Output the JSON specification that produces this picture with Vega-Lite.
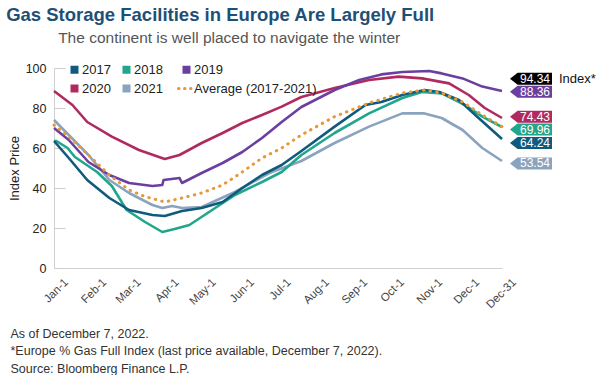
{
  "$schema": "https://vega.github.io/schema/vega-lite/v6.json",
  "padding": {"left": 6, "top": 6, "right": 0, "bottom": 0},
  "background": "white",
  "config": {"font": "Liberation Sans", "view": {"stroke": null}, "concat": {"spacing": 0}},
  "title": {"text": "Gas Storage Facilities in Europe Are Largely Full", "anchor": "start", "fontSize": 18.5, "fontWeight": "bold", "color": "#1e4f77", "offset": 6, "dx": -2},
  "datasets": {
    "lines": [
      {"series": "2021", "date": "2021-01-01", "value": 74},
      {"series": "2021", "date": "2021-01-13", "value": 66.5},
      {"series": "2021", "date": "2021-01-29", "value": 56.5},
      {"series": "2021", "date": "2021-02-15", "value": 44},
      {"series": "2021", "date": "2021-03-03", "value": 37.5},
      {"series": "2021", "date": "2021-03-22", "value": 31.5},
      {"series": "2021", "date": "2021-03-30", "value": 30},
      {"series": "2021", "date": "2021-04-07", "value": 31},
      {"series": "2021", "date": "2021-04-15", "value": 30},
      {"series": "2021", "date": "2021-05-01", "value": 30.5},
      {"series": "2021", "date": "2021-05-28", "value": 38},
      {"series": "2021", "date": "2021-06-25", "value": 47.5},
      {"series": "2021", "date": "2021-07-21", "value": 53.5},
      {"series": "2021", "date": "2021-08-17", "value": 62.5},
      {"series": "2021", "date": "2021-09-14", "value": 70.7},
      {"series": "2021", "date": "2021-10-11", "value": 77.3},
      {"series": "2021", "date": "2021-10-29", "value": 77.3},
      {"series": "2021", "date": "2021-11-12", "value": 75},
      {"series": "2021", "date": "2021-11-29", "value": 69},
      {"series": "2021", "date": "2021-12-15", "value": 60},
      {"series": "2021", "date": "2021-12-31", "value": 53.5},
      {"series": "2020", "date": "2021-01-01", "value": 88.5},
      {"series": "2020", "date": "2021-01-16", "value": 81.5},
      {"series": "2020", "date": "2021-01-28", "value": 73},
      {"series": "2020", "date": "2021-02-17", "value": 65.7},
      {"series": "2020", "date": "2021-03-11", "value": 59},
      {"series": "2020", "date": "2021-04-01", "value": 54.5},
      {"series": "2020", "date": "2021-04-13", "value": 56.5},
      {"series": "2020", "date": "2021-05-01", "value": 62.5},
      {"series": "2020", "date": "2021-05-18", "value": 67.5},
      {"series": "2020", "date": "2021-06-03", "value": 72.5},
      {"series": "2020", "date": "2021-06-19", "value": 76.5},
      {"series": "2020", "date": "2021-07-05", "value": 80.7},
      {"series": "2020", "date": "2021-07-21", "value": 85.5},
      {"series": "2020", "date": "2021-08-17", "value": 90},
      {"series": "2020", "date": "2021-09-14", "value": 94},
      {"series": "2020", "date": "2021-10-08", "value": 95.7},
      {"series": "2020", "date": "2021-10-27", "value": 94.8},
      {"series": "2020", "date": "2021-11-18", "value": 92.3},
      {"series": "2020", "date": "2021-12-04", "value": 86.5},
      {"series": "2020", "date": "2021-12-17", "value": 80},
      {"series": "2020", "date": "2021-12-31", "value": 75},
      {"series": "2019", "date": "2021-01-01", "value": 70},
      {"series": "2019", "date": "2021-01-13", "value": 64},
      {"series": "2019", "date": "2021-01-29", "value": 53},
      {"series": "2019", "date": "2021-02-15", "value": 46.5},
      {"series": "2019", "date": "2021-03-03", "value": 42.5},
      {"series": "2019", "date": "2021-03-22", "value": 41},
      {"series": "2019", "date": "2021-03-30", "value": 41.5},
      {"series": "2019", "date": "2021-03-31", "value": 44},
      {"series": "2019", "date": "2021-04-13", "value": 45},
      {"series": "2019", "date": "2021-04-15", "value": 42.5},
      {"series": "2019", "date": "2021-05-01", "value": 47.5},
      {"series": "2019", "date": "2021-05-18", "value": 52.5},
      {"series": "2019", "date": "2021-06-03", "value": 58},
      {"series": "2019", "date": "2021-06-19", "value": 65},
      {"series": "2019", "date": "2021-07-05", "value": 73},
      {"series": "2019", "date": "2021-07-21", "value": 80.5},
      {"series": "2019", "date": "2021-08-17", "value": 89},
      {"series": "2019", "date": "2021-09-06", "value": 94},
      {"series": "2019", "date": "2021-09-24", "value": 96.8},
      {"series": "2019", "date": "2021-10-11", "value": 98},
      {"series": "2019", "date": "2021-11-02", "value": 98.5},
      {"series": "2019", "date": "2021-11-12", "value": 97.3},
      {"series": "2019", "date": "2021-11-29", "value": 94.8},
      {"series": "2019", "date": "2021-12-15", "value": 90.7},
      {"series": "2019", "date": "2021-12-31", "value": 88.5},
      {"series": "2018", "date": "2021-01-01", "value": 63.5},
      {"series": "2018", "date": "2021-01-03", "value": 63.5},
      {"series": "2018", "date": "2021-01-12", "value": 60},
      {"series": "2018", "date": "2021-01-18", "value": 55.5},
      {"series": "2018", "date": "2021-02-05", "value": 48},
      {"series": "2018", "date": "2021-02-17", "value": 41},
      {"series": "2018", "date": "2021-03-01", "value": 29},
      {"series": "2018", "date": "2021-03-16", "value": 23},
      {"series": "2018", "date": "2021-03-30", "value": 18},
      {"series": "2018", "date": "2021-04-09", "value": 19.5},
      {"series": "2018", "date": "2021-04-21", "value": 21.5},
      {"series": "2018", "date": "2021-05-07", "value": 28},
      {"series": "2018", "date": "2021-05-28", "value": 36.5},
      {"series": "2018", "date": "2021-06-19", "value": 43},
      {"series": "2018", "date": "2021-07-05", "value": 48},
      {"series": "2018", "date": "2021-07-21", "value": 56.5},
      {"series": "2018", "date": "2021-08-17", "value": 67.5},
      {"series": "2018", "date": "2021-09-14", "value": 77.3},
      {"series": "2018", "date": "2021-10-11", "value": 85},
      {"series": "2018", "date": "2021-10-27", "value": 88},
      {"series": "2018", "date": "2021-11-12", "value": 87.3},
      {"series": "2018", "date": "2021-12-01", "value": 81.5},
      {"series": "2018", "date": "2021-12-15", "value": 75.7},
      {"series": "2018", "date": "2021-12-31", "value": 70.5},
      {"series": "2017", "date": "2021-01-01", "value": 63.5},
      {"series": "2017", "date": "2021-01-13", "value": 55},
      {"series": "2017", "date": "2021-01-28", "value": 44},
      {"series": "2017", "date": "2021-02-15", "value": 35},
      {"series": "2017", "date": "2021-03-03", "value": 29},
      {"series": "2017", "date": "2021-03-22", "value": 26.5},
      {"series": "2017", "date": "2021-04-01", "value": 26},
      {"series": "2017", "date": "2021-04-15", "value": 28.5},
      {"series": "2017", "date": "2021-05-01", "value": 30},
      {"series": "2017", "date": "2021-05-18", "value": 33},
      {"series": "2017", "date": "2021-06-03", "value": 40},
      {"series": "2017", "date": "2021-06-19", "value": 46.5},
      {"series": "2017", "date": "2021-07-05", "value": 51.5},
      {"series": "2017", "date": "2021-07-21", "value": 58.5},
      {"series": "2017", "date": "2021-08-17", "value": 70.7},
      {"series": "2017", "date": "2021-09-11", "value": 81.5},
      {"series": "2017", "date": "2021-09-24", "value": 83},
      {"series": "2017", "date": "2021-10-11", "value": 86.5},
      {"series": "2017", "date": "2021-10-29", "value": 89},
      {"series": "2017", "date": "2021-11-10", "value": 88},
      {"series": "2017", "date": "2021-11-26", "value": 84},
      {"series": "2017", "date": "2021-12-12", "value": 75},
      {"series": "2017", "date": "2021-12-31", "value": 64.5},
      {"series": "Average (2017-2021)", "date": "2021-01-01", "value": 71.5},
      {"series": "Average (2017-2021)", "date": "2021-01-13", "value": 65.7},
      {"series": "Average (2017-2021)", "date": "2021-01-29", "value": 56.5},
      {"series": "Average (2017-2021)", "date": "2021-02-15", "value": 46.5},
      {"series": "Average (2017-2021)", "date": "2021-03-03", "value": 39},
      {"series": "Average (2017-2021)", "date": "2021-03-16", "value": 35.7},
      {"series": "Average (2017-2021)", "date": "2021-04-01", "value": 33},
      {"series": "Average (2017-2021)", "date": "2021-04-15", "value": 35},
      {"series": "Average (2017-2021)", "date": "2021-05-01", "value": 37.5},
      {"series": "Average (2017-2021)", "date": "2021-05-18", "value": 41.5},
      {"series": "Average (2017-2021)", "date": "2021-06-03", "value": 48},
      {"series": "Average (2017-2021)", "date": "2021-06-19", "value": 55},
      {"series": "Average (2017-2021)", "date": "2021-07-05", "value": 60},
      {"series": "Average (2017-2021)", "date": "2021-07-21", "value": 66.5},
      {"series": "Average (2017-2021)", "date": "2021-08-17", "value": 75.7},
      {"series": "Average (2017-2021)", "date": "2021-09-14", "value": 82.5},
      {"series": "Average (2017-2021)", "date": "2021-10-11", "value": 87.5},
      {"series": "Average (2017-2021)", "date": "2021-10-29", "value": 89},
      {"series": "Average (2017-2021)", "date": "2021-11-12", "value": 87.5},
      {"series": "Average (2017-2021)", "date": "2021-11-29", "value": 83},
      {"series": "Average (2017-2021)", "date": "2021-12-15", "value": 76.5},
      {"series": "Average (2017-2021)", "date": "2021-12-31", "value": 70.7}
    ],
    "tags": [
      {"series": "Index", "date": "2021-12-31", "value": 94.34},
      {"series": "2019", "date": "2021-12-31", "value": 88.36},
      {"series": "2020", "date": "2021-12-31", "value": 74.43},
      {"series": "2018", "date": "2021-12-31", "value": 69.96},
      {"series": "2017", "date": "2021-12-31", "value": 64.24},
      {"series": "2021", "date": "2021-12-31", "value": 53.54}
    ]
  },
  "vconcat": [
    {
      "title": {"text": "The continent is well placed to navigate the winter", "anchor": "start", "dx": 50, "fontSize": 15.5, "fontWeight": "normal", "color": "#555555", "offset": 16},
      "width": 448,
      "height": 200,
      "encoding": {
        "x": {
          "field": "date", "type": "temporal",
          "scale": {"type": "utc", "domain": [{"year": 2021, "month": 1, "date": 1, "utc": true}, {"year": 2021, "month": 12, "date": 31, "utc": true}]},
          "axis": {
            "values": [
              {"year": 2021, "month": 1, "date": 1, "utc": true},
              {"year": 2021, "month": 2, "date": 1, "utc": true},
              {"year": 2021, "month": 3, "date": 1, "utc": true},
              {"year": 2021, "month": 4, "date": 1, "utc": true},
              {"year": 2021, "month": 5, "date": 1, "utc": true},
              {"year": 2021, "month": 6, "date": 1, "utc": true},
              {"year": 2021, "month": 7, "date": 1, "utc": true},
              {"year": 2021, "month": 8, "date": 1, "utc": true},
              {"year": 2021, "month": 9, "date": 1, "utc": true},
              {"year": 2021, "month": 10, "date": 1, "utc": true},
              {"year": 2021, "month": 11, "date": 1, "utc": true},
              {"year": 2021, "month": 12, "date": 1, "utc": true},
              {"year": 2021, "month": 12, "date": 31, "utc": true}
            ],
            "labelExpr": "utcFormat(datum.value, '%b-%-d')",
            "labelAngle": -45, "labelAlign": "right", "labelBaseline": "top",
            "labelOffset": 8, "labelPadding": 8, "ticks": false,
            "labelFontSize": 11.5, "labelColor": "#444444", "labelOverlap": false, "labelFlush": false, "labelBound": false,
            "domainColor": "#d0d0d0", "grid": false,
            "title": ["\u00a0As of December 7, 2022.", "*Europe % Gas Full Index (last price available, December 7, 2022).", "\u00a0Source: Bloomberg Finance L.P."],
            "titleAnchor": "start", "titleAlign": "left", "titleBaseline": "top",
            "titleX": -44, "titleY": 59, "titleFontSize": 12.5, "titleFontWeight": "normal", "titleColor": "#333333", "titleLineHeight": 17.5
          }
        },
        "y": {
          "field": "value", "type": "quantitative",
          "scale": {"domain": [0, 100], "nice": false},
          "axis": {
            "title": "Index Price", "values": [0, 20, 40, 60, 80, 100], "grid": false,
            "domainColor": "#d0d0d0", "tickColor": "#cccccc", "tickSize": -11, "labelPadding": 19,
            "labelFontSize": 12.5, "labelColor": "#222222", "titleFontSize": 13, "titleFontWeight": "normal", "titleColor": "#222222", "titlePadding": 4
          }
        }
      },
      "layer": [
        {
          "data": {"name": "lines"},
          "transform": [{"filter": "datum.series !== 'Average (2017-2021)'"}],
          "mark": {"type": "line", "strokeWidth": 2.6, "strokeJoin": "round"},
          "encoding": {
            "color": {
              "field": "series", "type": "nominal",
              "scale": {
                "domain": ["2017", "2018", "2019", "2020", "2021", "Average (2017-2021)", "Index"],
                "range": ["#0f5a7d", "#21a68c", "#6b3fa0", "#b02a60", "#8aa3be", "#e4993a", "#000000"]
              },
              "legend": {
                "orient": "none", "legendX": 14, "legendY": -5, "columns": 3, "direction": "horizontal", "title": null,
                "values": ["2017", "2018", "2019", "2020", "2021", "Average (2017-2021)"],
                "labelFontSize": 13, "labelColor": "#222222", "symbolSize": 256, "labelOffset": 1,
                "columnPadding": 9, "rowPadding": 5, "padding": 0,
                "encode": {
                  "symbols": {
                    "update": {
                      "shape": {"signal": "datum.value === 'Average (2017-2021)' ? 'stroke' : 'square'"},
                      "size": {"signal": "datum.value === 'Average (2017-2021)' ? 256 : 64"},
                      "fill": {"signal": "datum.value === 'Average (2017-2021)' ? 'transparent' : scale('color', datum.value)"},
                      "stroke": {"signal": "scale('color', datum.value)"},
                      "strokeWidth": {"signal": "datum.value === 'Average (2017-2021)' ? 3 : 0"},
                      "strokeDash": {"signal": "datum.value === 'Average (2017-2021)' ? [0.5, 5.5] : [1, 0]"},
                      "strokeCap": {"value": "round"},
                      "opacity": {"value": 1}
                    }
                  }
                }
              }
            }
          }
        },
        {
          "data": {"name": "lines"},
          "transform": [{"filter": "datum.series === 'Average (2017-2021)'"}],
          "mark": {"type": "line", "strokeWidth": 3, "strokeDash": [0.5, 6.2], "strokeCap": "round"},
          "encoding": {
            "color": {"field": "series", "type": "nominal"}
          }
        },
        {
          "data": {"name": "tags"},
          "mark": {
            "type": "point", "shape": "M1.33,0L2.6,-1L8.33,-1L8.33,1L2.6,1Z", "size": 144, "filled": true, "opacity": 1, "strokeWidth": 0,
            "yOffset": {"expr": "datum.series === 'Index' ? -0.5 : datum.series === '2019' ? 0.5 : datum.series === '2020' ? -2.5 : datum.series === '2018' ? 1.5 : datum.series === '2017' ? 3.5 : datum.series === '2021' ? 2.5 : 0"}
          },
          "encoding": {
            "color": {"field": "series", "type": "nominal"}
          }
        },
        {
          "data": {"name": "tags"},
          "mark": {
            "type": "text", "dx": 33, "align": "center", "baseline": "middle", "fontSize": 12, "color": "#ffffff",
            "yOffset": {"expr": "datum.series === 'Index' ? -0.5 : datum.series === '2019' ? 0.5 : datum.series === '2020' ? -2.5 : datum.series === '2018' ? 1.5 : datum.series === '2017' ? 3.5 : datum.series === '2021' ? 2.5 : 0"}
          },
          "encoding": {
            "text": {"field": "value", "type": "quantitative", "format": ".2f"}
          }
        },
        {
          "data": {"name": "tags"},
          "transform": [{"filter": "datum.series === 'Index'"}],
          "mark": {"type": "text", "dx": 57, "align": "left", "baseline": "middle", "fontSize": 13, "color": "#111111", "yOffset": -0.5},
          "encoding": {
            "text": {"value": "Index*"}
          }
        }
      ]
    }
  ]
}
